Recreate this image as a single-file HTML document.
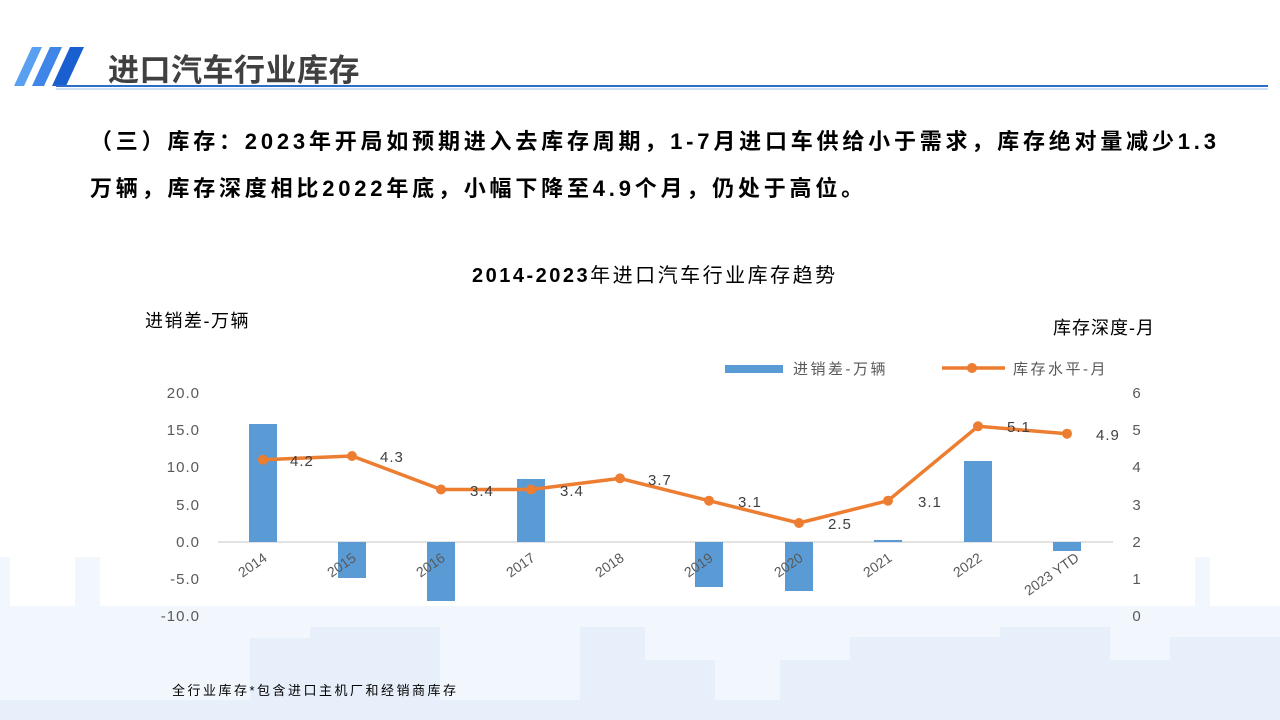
<!DOCTYPE html>
<html><head><meta charset="utf-8"><style>
body{margin:0;width:1280px;height:720px;overflow:hidden;background:#fff;font-family:"Liberation Sans","Noto Sans CJK SC",sans-serif;position:relative}
.t{position:absolute;white-space:nowrap}
</style></head><body>
<svg width="1280" height="720" style="position:absolute;left:0;top:0">
<g fill="#f2f7fd">
<rect x="0" y="606" width="1280" height="114"/>
<rect x="0" y="557" width="10" height="60"/><rect x="75" y="557" width="25" height="60"/>
<rect x="1195" y="557" width="15" height="60"/><rect x="1240" y="606" width="40" height="20"/>
</g>
<g fill="#e6effa">
<rect x="250" y="638" width="190" height="82"/><rect x="310" y="627" width="130" height="20"/>
<rect x="580" y="627" width="65" height="93"/><rect x="645" y="660" width="70" height="60"/>
<rect x="780" y="660" width="155" height="60"/><rect x="850" y="637" width="150" height="83"/>
<rect x="1000" y="627" width="110" height="93"/><rect x="1110" y="660" width="60" height="60"/>
<rect x="1170" y="637" width="110" height="83"/><rect x="0" y="700" width="1280" height="20"/>
</g>
<polygon points="14,86 32,47 42,47 24,86" fill="#5aa0f0"/>
<polygon points="32,86 50,47 62,47 44,86" fill="#3f86e8"/>
<polygon points="52,86 70,47 84,47 66,86" fill="#1a5fd0"/>
<line x1="56" y1="86" x2="1268" y2="86" stroke="#2d6cc8" stroke-width="2"/>
<line x1="56" y1="89" x2="1268" y2="89" stroke="#9cc0ec" stroke-width="1"/>
<line x1="218" y1="542" x2="1113" y2="542" stroke="#d9d9d9" stroke-width="1.5"/>
<g fill="#5b9bd5">
<rect x="249" y="424" width="28" height="118"/>
<rect x="338" y="542" width="28" height="36"/>
<rect x="427" y="542" width="28" height="59"/>
<rect x="517" y="479" width="28" height="63"/>
<rect x="695" y="542" width="28" height="45"/>
<rect x="785" y="542" width="28" height="49"/>
<rect x="874" y="540" width="28" height="2"/>
<rect x="964" y="461" width="28" height="81"/>
<rect x="1053" y="542" width="28" height="9"/>
<rect x="725" y="365" width="58" height="8"/>
</g>
<polyline fill="none" stroke="#ed7d31" stroke-width="3.5" stroke-linejoin="round" points="263,459.8 352,456.0 441,489.5 531,489.5 620,478.4 709,500.7 799,523.0 888,500.7 978,426.3 1067,433.7"/>
<g fill="#ed7d31">
<circle cx="263" cy="459.8" r="5"/><circle cx="352" cy="456" r="5"/><circle cx="441" cy="489.5" r="5"/><circle cx="531" cy="489.5" r="5"/><circle cx="620" cy="478.4" r="5"/><circle cx="709" cy="500.7" r="5"/><circle cx="799" cy="523" r="5"/><circle cx="888" cy="500.7" r="5"/><circle cx="978" cy="426.3" r="5"/><circle cx="1067" cy="433.7" r="5"/>
</g>
<line x1="942" y1="368" x2="1005" y2="368" stroke="#ed7d31" stroke-width="3.5"/><circle cx="972" cy="368" r="5" fill="#ed7d31"/>
<g font-family="Liberation Sans,sans-serif" font-size="15" fill="#595959" letter-spacing="1">
<text x="200" y="398" text-anchor="end">20.0</text><text x="200" y="435" text-anchor="end">15.0</text>
<text x="200" y="472" text-anchor="end">10.0</text><text x="200" y="510" text-anchor="end">5.0</text>
<text x="200" y="547" text-anchor="end">0.0</text><text x="200" y="584" text-anchor="end">-5.0</text>
<text x="200" y="621" text-anchor="end">-10.0</text>
<g text-anchor="middle"><text x="1137" y="398">6</text><text x="1137" y="435">5</text><text x="1137" y="472">4</text><text x="1137" y="510">3</text><text x="1137" y="547">2</text><text x="1137" y="584">1</text><text x="1137" y="621">0</text></g>
<g font-size="15" fill="#404040">
<text x="290" y="466">4.2</text><text x="380" y="462">4.3</text><text x="470" y="496">3.4</text><text x="560" y="496">3.4</text><text x="648" y="485">3.7</text><text x="738" y="507">3.1</text><text x="828" y="529">2.5</text><text x="918" y="507">3.1</text><text x="1007" y="432">5.1</text><text x="1096" y="440">4.9</text>
</g>
<g font-size="14" text-anchor="end" letter-spacing="0">
<text transform="translate(268,560) rotate(-35)">2014</text>
<text transform="translate(357,560) rotate(-35)">2015</text>
<text transform="translate(446,560) rotate(-35)">2016</text>
<text transform="translate(536,560) rotate(-35)">2017</text>
<text transform="translate(625,560) rotate(-35)">2018</text>
<text transform="translate(714,560) rotate(-35)">2019</text>
<text transform="translate(804,560) rotate(-35)">2020</text>
<text transform="translate(893,560) rotate(-35)">2021</text>
<text transform="translate(983,560) rotate(-35)">2022</text>
<text transform="translate(1080,560) rotate(-35)">2023 YTD</text>
</g>
</g>
<g font-family="Liberation Sans,Noto Sans CJK SC,sans-serif" font-size="15" fill="#595959" letter-spacing="2.5">
<text x="793" y="374">进销差-万辆</text><text x="1013" y="374">库存水平-月</text>
</g>
</svg>
<div class="t" style="left:108px;top:45px;font-size:31px;font-weight:bold;color:#404040;letter-spacing:0.5px">进口汽车行业库存</div>
<div class="t" style="left:90px;top:118px;font-size:22px;font-weight:bold;color:#000;line-height:47px;letter-spacing:3.8px">（三）库存：2023年开局如预期进入去库存周期，1-7月进口车供给小于需求，库存绝对量减少1.3<br>万辆，库存深度相比2022年底，小幅下降至4.9个月，仍处于高位。</div>
<div class="t" style="left:472px;top:259px;font-size:20px;font-weight:bold;color:#000;letter-spacing:2.5px">2014-2023<span style="font-weight:normal">年进口汽车行业库存趋势</span></div>
<div class="t" style="left:145px;top:307px;font-size:18px;color:#000;letter-spacing:1.5px">进销差-万辆</div>
<div class="t" style="left:1053px;top:314px;font-size:18px;color:#000;letter-spacing:1px">库存深度-月</div>
<div class="t" style="left:172px;top:680px;font-size:13px;color:#000;letter-spacing:2.5px">全行业库存*包含进口主机厂和经销商库存</div>
</body></html>
